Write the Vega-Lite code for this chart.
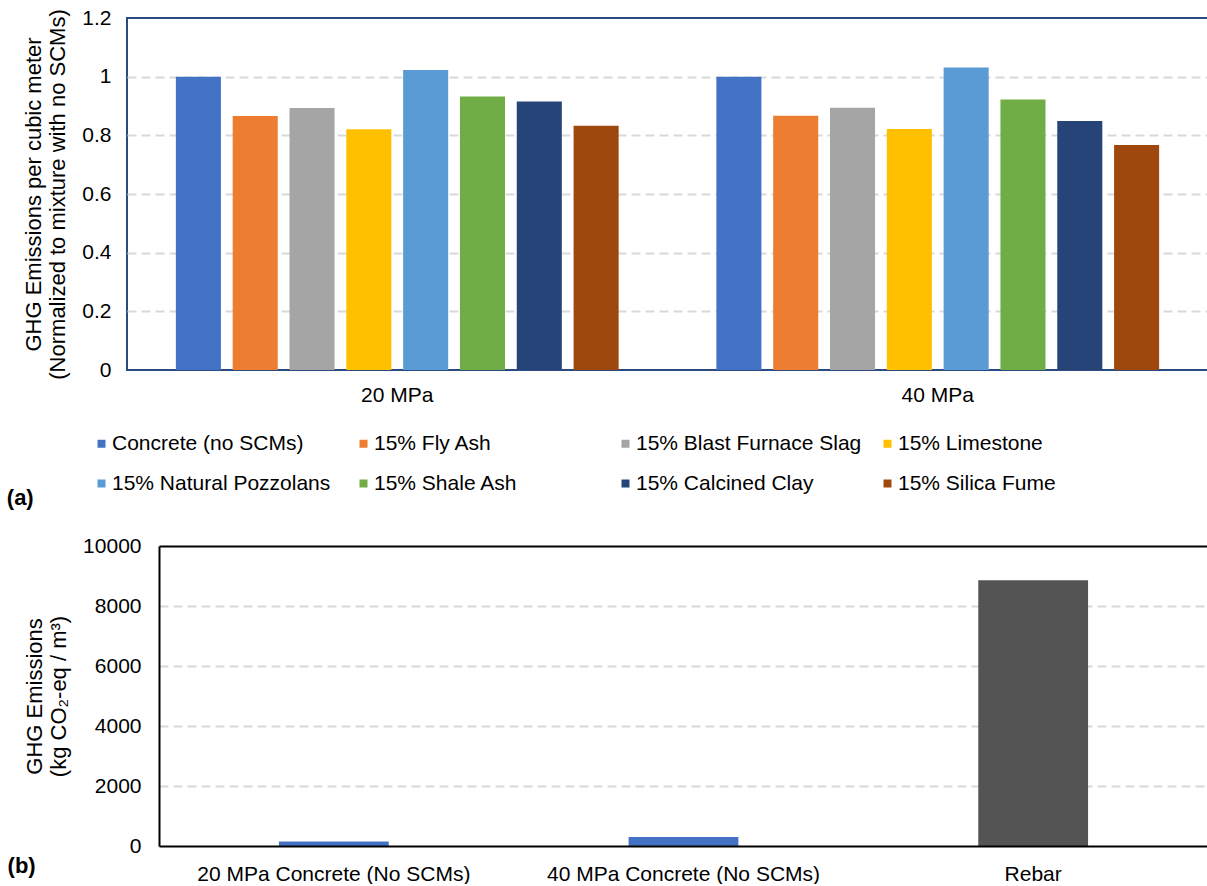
{
  "$schema": "https://vega.github.io/schema/vega-lite/v6.json",
  "padding": {"left": 5, "top": 6, "right": 0, "bottom": 0},
  "background": "white",
  "config": {
    "font": "Liberation Sans",
    "axis": {
      "labelFont": "Liberation Sans",
      "labelFontSize": 21,
      "labelColor": "#000000",
      "labelLimit": 0,
      "titleFont": "Liberation Sans",
      "titleFontSize": 22,
      "titleFontWeight": "normal",
      "titleColor": "#000000",
      "titleLineHeight": 24,
      "ticks": false,
      "tickSize": 0,
      "domain": false,
      "gridColor": "#D9D9D9",
      "gridDash": [9, 5],
      "gridWidth": 2
    },
    "legend": {
      "labelFont": "Liberation Sans",
      "labelFontSize": 21,
      "labelColor": "#000000",
      "labelLimit": 400
    }
  },
  "resolve": {"scale": {"color": "independent"}, "legend": {"color": "independent"}},
  "spacing": 25,
  "vconcat": [
    {
      "width": 1081,
      "height": 352,
      "view": {"stroke": "#2B4A80", "strokeWidth": 2},
      "title": {"text": "(a)", "orient": "bottom", "anchor": "start", "frame": "bounds", "fontSize": 22, "fontWeight": "bold", "font": "Liberation Sans", "color": "#000000", "dx": -16, "offset": -6, "baseline": "top"},
      "data": {"values": [
        {"strength": "20 MPa", "mixture": "Concrete (no SCMs)", "value": 1.0},
        {"strength": "20 MPa", "mixture": "15% Fly Ash", "value": 0.866},
        {"strength": "20 MPa", "mixture": "15% Blast Furnace Slag", "value": 0.893},
        {"strength": "20 MPa", "mixture": "15% Limestone", "value": 0.821},
        {"strength": "20 MPa", "mixture": "15% Natural Pozzolans", "value": 1.023},
        {"strength": "20 MPa", "mixture": "15% Shale Ash", "value": 0.932},
        {"strength": "20 MPa", "mixture": "15% Calcined Clay", "value": 0.915},
        {"strength": "20 MPa", "mixture": "15% Silica Fume", "value": 0.833},
        {"strength": "40 MPa", "mixture": "Concrete (no SCMs)", "value": 1.0},
        {"strength": "40 MPa", "mixture": "15% Fly Ash", "value": 0.867},
        {"strength": "40 MPa", "mixture": "15% Blast Furnace Slag", "value": 0.894},
        {"strength": "40 MPa", "mixture": "15% Limestone", "value": 0.822},
        {"strength": "40 MPa", "mixture": "15% Natural Pozzolans", "value": 1.031},
        {"strength": "40 MPa", "mixture": "15% Shale Ash", "value": 0.922},
        {"strength": "40 MPa", "mixture": "15% Calcined Clay", "value": 0.849},
        {"strength": "40 MPa", "mixture": "15% Silica Fume", "value": 0.767}
      ]},
      "mark": {"type": "bar"},
      "encoding": {
        "x": {
          "field": "strength", "type": "nominal", "sort": ["20 MPa", "40 MPa"],
          "scale": {"paddingInner": 0, "paddingOuter": 0},
          "axis": {"title": null, "labelAngle": 0, "labelPadding": 14, "grid": false}
        },
        "xOffset": {
          "field": "mixture", "type": "nominal",
          "sort": ["Concrete (no SCMs)", "15% Fly Ash", "15% Blast Furnace Slag", "15% Limestone", "15% Natural Pozzolans", "15% Shale Ash", "15% Calcined Clay", "15% Silica Fume"],
          "scale": {"paddingInner": 0.207, "paddingOuter": 0.86}
        },
        "y": {
          "field": "value", "type": "quantitative",
          "scale": {"domain": [0, 1.2], "nice": false},
          "axis": {
            "values": [0, 0.2, 0.4, 0.6, 0.8, 1, 1.2],
            "format": "~g",
            "labelPadding": 16,
            "title": ["GHG Emissions per cubic meter", "(Normalized to mixture with no SCMs)"],
            "titlePadding": 12,
            "grid": true,
            "gridOpacity": {"condition": {"test": "datum.value <= 0 || datum.value >= 1.2", "value": 0}, "value": 1}
          }
        },
        "color": {
          "field": "mixture", "type": "nominal",
          "sort": ["Concrete (no SCMs)", "15% Fly Ash", "15% Blast Furnace Slag", "15% Limestone", "15% Natural Pozzolans", "15% Shale Ash", "15% Calcined Clay", "15% Silica Fume"],
          "scale": {
            "domain": ["Concrete (no SCMs)", "15% Fly Ash", "15% Blast Furnace Slag", "15% Limestone", "15% Natural Pozzolans", "15% Shale Ash", "15% Calcined Clay", "15% Silica Fume"],
            "range": ["#4472C4", "#ED7D31", "#A5A5A5", "#FFC000", "#5B9BD5", "#70AD47", "#264478", "#9E480E"]
          },
          "legend": {
            "orient": "none", "legendX": -36, "legendY": 415,
            "direction": "horizontal", "columns": 4, "gridAlign": "all",
            "title": null, "symbolType": "square", "symbolSize": 64, "symbolStrokeWidth": 0,
            "labelOffset": 0, "columnPadding": 15, "rowPadding": 18
          }
        }
      }
    },
    {
      "width": 1081,
      "height": 300,
      "view": {"stroke": null},
      "title": {"text": "(b)", "orient": "bottom", "anchor": "start", "frame": "bounds", "fontSize": 22, "fontWeight": "bold", "font": "Liberation Sans", "color": "#000000", "dx": -16, "offset": -28, "baseline": "top"},
      "data": {"values": [
        {"item": "20 MPa Concrete (No SCMs)", "kind": "concrete", "value": 150},
        {"item": "40 MPa Concrete (No SCMs)", "kind": "concrete", "value": 300},
        {"item": "Rebar", "kind": "rebar", "value": 8860}
      ]},
      "layer": [
        {
          "mark": {"type": "bar"},
          "encoding": {
            "x": {
              "field": "item", "type": "nominal", "sort": null,
              "scale": {"range": [32, 1081], "paddingInner": 0.686, "paddingOuter": 0.343},
              "axis": {"title": null, "labelAngle": 0, "labelPadding": 17, "grid": false, "domain": true, "domainColor": "#000000", "domainWidth": 2, "zindex": 1}
            },
            "y": {
              "field": "value", "type": "quantitative",
              "scale": {"domain": [0, 10000], "nice": false},
              "axis": {
                "values": [0, 2000, 4000, 6000, 8000, 10000],
                "format": "d",
                "offset": -32,
                "labelPadding": 18,
                "title": ["GHG Emissions", "(kg CO₂-eq / m³)"],
                "titlePadding": 12,
                "grid": true,
                "domain": true, "domainColor": "#000000", "domainWidth": 2, "zindex": 0,
                "gridOpacity": {"condition": {"test": "datum.value <= 0 || datum.value >= 10000", "value": 0}, "value": 1}
              }
            },
            "color": {
              "field": "kind", "type": "nominal",
              "scale": {"domain": ["concrete", "rebar"], "range": ["#4472C4", "#545454"]},
              "legend": null
            }
          }
        },
        {
          "mark": {"type": "bar", "opacity": 0},
          "encoding": {
            "x": {
              "field": "item", "type": "nominal", "sort": null,
              "axis": {"orient": "top", "labels": false, "title": null, "grid": false, "domain": true, "domainColor": "#000000", "domainWidth": 2, "zindex": 1}
            },
            "y": {
              "field": "value", "type": "quantitative",
              "axis": {"orient": "right", "labels": false, "title": null, "grid": false, "domain": true, "domainColor": "#000000", "domainWidth": 2, "zindex": 1}
            }
          }
        }
      ],
      "resolve": {"axis": {"x": "independent", "y": "independent"}}
    }
  ]
}
